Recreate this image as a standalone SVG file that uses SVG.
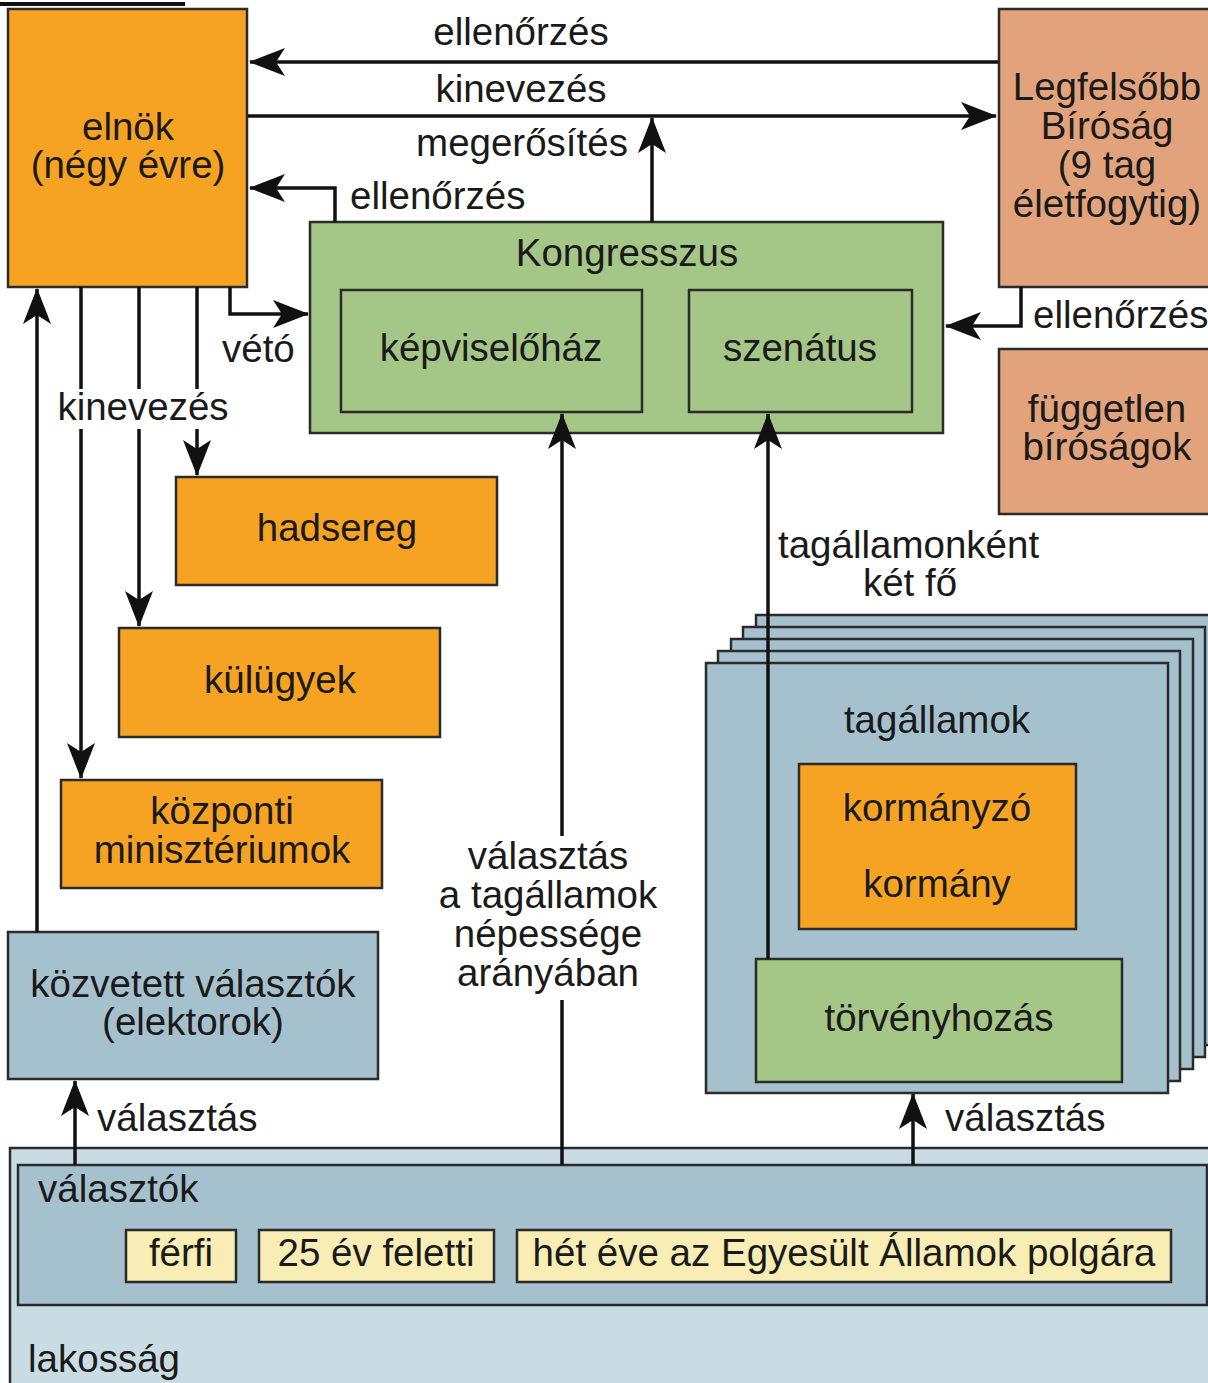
<svg xmlns="http://www.w3.org/2000/svg" width="1208" height="1383" viewBox="0 0 1208 1383">
<style>
text{font-family:"Liberation Sans",Arial,sans-serif;font-size:38.5px;fill:#1a1a1a}
.c{text-anchor:middle}
.box{stroke:#2b2b2b;stroke-width:2.5}
.or{fill:#F6A323}
.gr{fill:#A4C687}
.bl{fill:#A5C1CD}
.lb{fill:#C9DCE4}
.sa{fill:#E2A27B}
.ye{fill:#F8EDB4}
.ln{fill:none;stroke:#111;stroke-width:3.5}
.arr{marker-end:url(#ah)}
</style>
<defs>
<marker id="ah" viewBox="0 0 36 28" refX="35" refY="14" markerWidth="36" markerHeight="28" markerUnits="userSpaceOnUse" orient="auto">
<path d="M0,0 L36,14 L0,28 L9,14 Z" fill="#111"/>
</marker>
</defs>
<rect width="1208" height="1383" fill="#fff"/>
<rect x="0" y="2" width="185" height="4" fill="#111"/>

<g id="lakossag">
<rect class="box lb" x="10" y="1148" width="1200" height="240"/>
<text x="28" y="1372">lakosság</text>
</g>
<g id="valasztok">
<rect class="box bl" x="18" y="1165" width="1189" height="140"/>
<text x="38" y="1202">választók</text>
</g>
<g id="ferfi">
<rect class="box ye" x="126" y="1230" width="110" height="52"/>
<text class="c" x="181" y="1266">férfi</text>
</g>
<g id="huszonot">
<rect class="box ye" x="259" y="1230" width="235" height="52"/>
<text class="c" x="376" y="1266">25 év feletti</text>
</g>
<g id="polgar">
<rect class="box ye" x="517" y="1230" width="654" height="52"/>
<text class="c" x="844" y="1266">hét éve az Egyesült Államok polgára</text>
</g>

<g id="elnok">
<rect class="box or" x="8" y="9" width="239" height="278"/>
<text class="c" x="128" y="140">elnök<tspan x="128" dy="38">(négy évre)</tspan></text>
</g>
<g id="legfelsobb">
<rect class="box sa" x="999" y="9" width="215" height="278"/>
<text class="c" x="1107" y="100">Legfelsőbb<tspan x="1107" dy="39">Bíróság</tspan><tspan x="1107" dy="39">(9 tag</tspan><tspan x="1107" dy="39">életfogytig)</tspan></text>
</g>
<g id="fuggetlen">
<rect class="box sa" x="999" y="349" width="215" height="165"/>
<text class="c" x="1107" y="422">független<tspan x="1107" dy="38">bíróságok</tspan></text>
</g>
<g id="kongresszus">
<rect class="box gr" x="310" y="222" width="633" height="211"/>
<text class="c" x="627" y="266">Kongresszus</text>
</g>
<g id="kepviselohaz">
<rect class="box gr" x="341" y="290" width="301" height="122"/>
<text class="c" x="491" y="361">képviselőház</text>
</g>
<g id="szenatus">
<rect class="box gr" x="689" y="290" width="223" height="122"/>
<text class="c" x="800" y="361">szenátus</text>
</g>
<g id="hadsereg">
<rect class="box or" x="176" y="477" width="321" height="108"/>
<text class="c" x="337" y="541">hadsereg</text>
</g>
<g id="kulugyek">
<rect class="box or" x="119" y="628" width="321" height="109"/>
<text class="c" x="280" y="693">külügyek</text>
</g>
<g id="kozponti">
<rect class="box or" x="61" y="780" width="321" height="108"/>
<text class="c" x="222" y="824">központi<tspan x="222" dy="39">minisztériumok</tspan></text>
</g>
<g id="elektorok">
<rect class="box bl" x="8" y="932" width="370" height="147"/>
<text class="c" x="193" y="997">közvetett választók<tspan x="193" dy="38">(elektorok)</tspan></text>
</g>
<g id="tagallamok">
<rect class="box bl" x="756" y="615" width="462" height="430"/>
<rect class="box bl" x="743" y="627" width="462" height="430"/>
<rect class="box bl" x="731" y="639" width="462" height="430"/>
<rect class="box bl" x="718" y="651" width="462" height="430"/>
<rect class="box bl" x="706" y="663" width="462" height="430"/>
<text class="c" x="937" y="733">tagállamok</text>
</g>
<g id="kormanyzo">
<rect class="box or" x="799" y="764" width="277" height="165"/>
<text class="c" x="937" y="821">kormányzó</text>
<text class="c" x="937" y="897">kormány</text>
</g>
<g id="torvenyhozas">
<rect class="box gr" x="756" y="959" width="366" height="123"/>
<text class="c" x="939" y="1031">törvényhozás</text>
</g>

<g id="connectors">
<path class="ln arr" d="M998,62 H250"/>
<path class="ln arr" d="M248,116 H996"/>
<path class="ln arr" d="M652,222 V118"/>
<path class="ln arr" d="M335,222 V188 H250"/>
<path class="ln arr" d="M230,287 V314 H308"/>
<path class="ln arr" d="M1021,287 V326 H946"/>
<path class="ln arr" d="M37,932 V289"/>
<path class="ln arr" d="M81,287 V778"/>
<path class="ln arr" d="M139,287 V626"/>
<path class="ln arr" d="M197,287 V475"/>
<path class="ln arr" d="M562,1165 V414"/>
<path class="ln arr" d="M768,959 V414"/>
<path class="ln arr" d="M75,1165 V1081"/>
<path class="ln arr" d="M913,1165 V1094"/>
</g>

<g id="labels">
<text class="c" x="521" y="45">ellenőrzés</text>
<text class="c" x="521" y="102">kinevezés</text>
<text class="c" x="522" y="156">megerősítés</text>
<text x="350" y="209">ellenőrzés</text>
<text x="222" y="362">vétó</text>
<text x="1033" y="328">ellenőrzés</text>
<rect x="55" y="389" width="178" height="40" fill="#fff"/>
<text class="c" x="143" y="420">kinevezés</text>
<rect x="435" y="836" width="228" height="164" fill="#fff"/>
<text class="c" x="548" y="869">választás<tspan x="548" dy="39">a tagállamok</tspan><tspan x="548" dy="39">népessége</tspan><tspan x="548" dy="39">arányában</tspan></text>
<text x="778" y="558">tagállamonként<tspan x="910" dy="38" text-anchor="middle">két fő</tspan></text>
<text x="97" y="1131">választás</text>
<text x="945" y="1131">választás</text>
</g>
</svg>
